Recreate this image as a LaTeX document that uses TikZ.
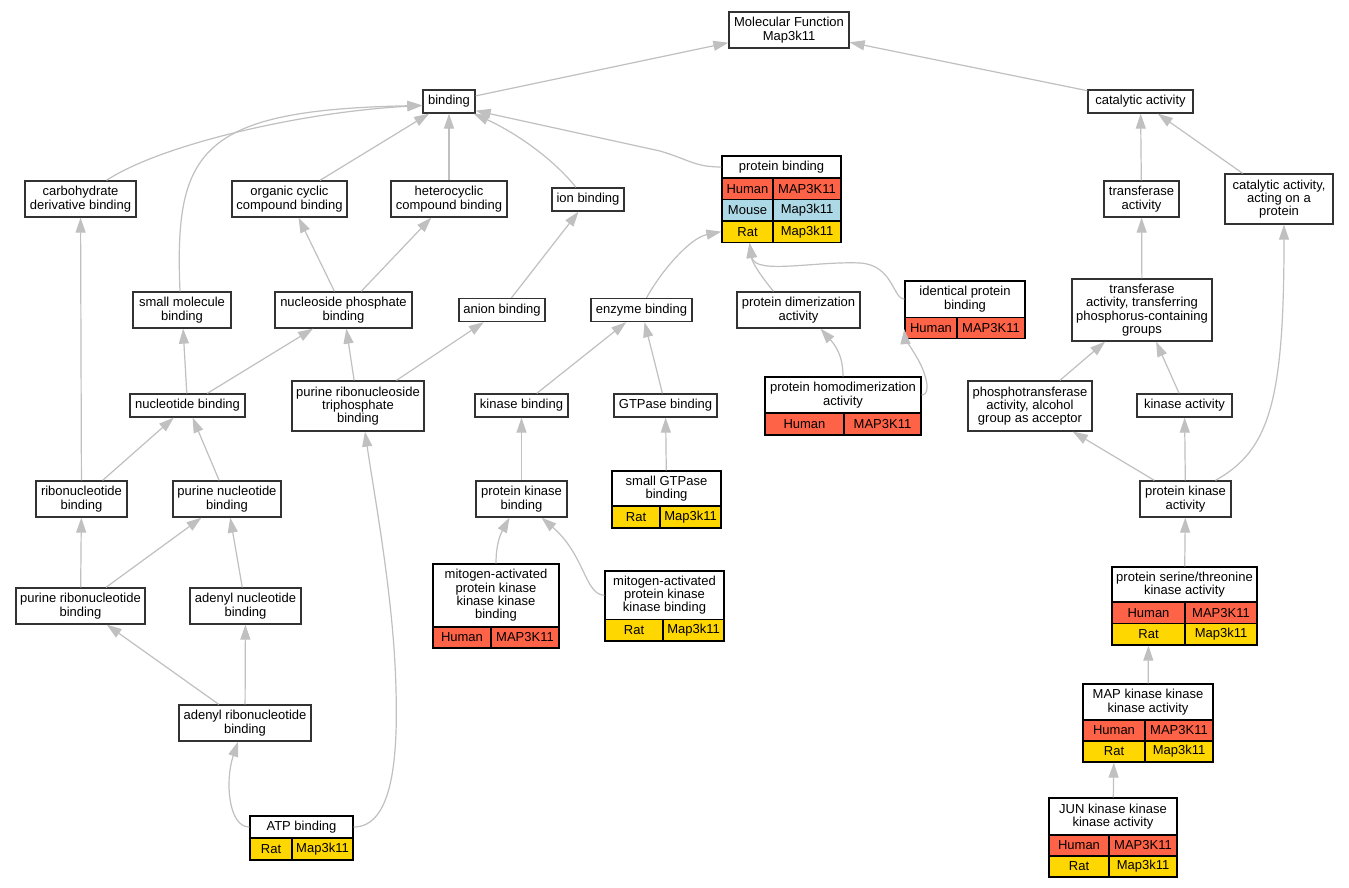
\documentclass[tikz,border=0pt]{standalone}
\usepackage{fontspec}
\setmainfont{Liberation Sans}
\usetikzlibrary{arrows.meta}
\definecolor{edgegray}{RGB}{192,192,192}
\definecolor{boxgray}{RGB}{50,50,50}
\definecolor{humanred}{RGB}{255,99,71}
\definecolor{mouseblue}{RGB}{173,216,230}
\definecolor{ratgold}{RGB}{255,215,0}
\newcommand{\gofont}{\fontsize{13}{13.3}\selectfont}
% one species row of a table: name, style, x left, x divider, x right, y top, y bottom, species, gene
\newcommand{\sprow}[9]{%
  \node[#2, minimum width={#4-#3}, minimum height={#7-#6}] (#1l) at ({(#3+#4)/2},{(#6+#7)/2}) {#8};
  \node[#2, minimum width={#5-#4}, minimum height={#7-#6}] (#1r) at ({(#4+#5)/2},{(#6+#7)/2}) {#9};}

\begin{document}
\begin{tikzpicture}[x=1pt,y=-1pt,
  term/.style={draw=boxgray, line width=1.3pt, fill=white, align=center, inner sep=1pt, font=\gofont},
  hdr/.style={draw=black, line width=1.3pt, fill=white, align=center, inner sep=1pt, font=\gofont},
  human/.style={hdr, fill=humanred},
  mouse/.style={hdr, fill=mouseblue},
  rat/.style={hdr, fill=ratgold},
  isa/.style={draw=edgegray, line width=1.2pt, -{Triangle[length=15pt,width=10pt]}}]
  \useasboundingbox[fill=white] (0,0) rectangle (1349,888);

  % root and first level
  \node[term, minimum width=120, minimum height=36] (mf) at (789,30) {Molecular Function\\Map3k11};
  \node[term, minimum width=52, minimum height=23] (binding) at (449,101.5) {binding};
  \node[term, minimum width=105, minimum height=23] (catalytic) at (1140.5,101.5) {catalytic activity};

  % second level
  \node[term, minimum width=111, minimum height=36] (carb) at (80.5,199) {carbohydrate\\derivative binding};
  \node[term, minimum width=115, minimum height=36] (orgcyc) at (289.5,199) {organic cyclic\\compound binding};
  \node[term, minimum width=116, minimum height=36] (hetero) at (449,199) {heterocyclic\\compound binding};
  \node[term, minimum width=72, minimum height=23] (ionb) at (588,199.5) {ion binding};
  \node[term, minimum width=75, minimum height=36] (transf) at (1141.5,199) {transferase\\activity};
  \node[term, minimum width=108, minimum height=50] (catprot) at (1279,199) {catalytic activity,\\acting on a\\protein};

  % protein binding table
  \node[hdr, minimum width=119, minimum height=22] (pb) at (781.5,167) {protein binding};
  \sprow{pbh}{human}{722}{773}{841}{178}{199.5}{Human}{MAP3K11}
  \sprow{pbm}{mouse}{722}{773}{841}{199.5}{221}{Mouse}{Map3k11}
  \sprow{pbr}{rat}{722}{773}{841}{221}{242.3}{Rat}{Map3k11}

  % third level
  \node[term, minimum width=98, minimum height=36] (smallmol) at (182,310) {small molecule\\binding};
  \node[term, minimum width=137, minimum height=36] (nucphos) at (343.5,310) {nucleoside phosphate\\binding};
  \node[term, minimum width=86, minimum height=23] (anion) at (502,310) {anion binding};
  \node[term, minimum width=101, minimum height=23] (enzyme) at (641.5,310) {enzyme binding};
  \node[term, minimum width=123, minimum height=36] (dimer) at (798.5,310) {protein dimerization\\activity};
  \node[term, minimum width=140, minimum height=62] (transp) at (1142,310) {transferase\\activity, transferring\\phosphorus-containing\\groups};
  \node[hdr, minimum width=120, minimum height=36.5] (idp) at (965,299.25) {identical protein\\binding};
  \sprow{idph}{human}{905}{957}{1025}{317.5}{338.5}{Human}{MAP3K11}

  % fourth level
  \node[term, minimum width=115, minimum height=23] (nucleotide) at (187.5,405.5) {nucleotide binding};
  \node[term, minimum width=132, minimum height=50] (prtp) at (358,406) {purine ribonucleoside\\triphosphate\\binding};
  \node[term, minimum width=93, minimum height=23] (kinb) at (521.5,405.5) {kinase binding};
  \node[term, minimum width=103, minimum height=23] (gtpase) at (665.5,405.5) {GTPase binding};
  \node[term, minimum width=124, minimum height=50] (phosph) at (1030,406) {phosphotransferase\\activity, alcohol\\group as acceptor};
  \node[term, minimum width=95, minimum height=23] (kinact) at (1184.5,405.5) {kinase activity};
  \node[hdr, minimum width=156, minimum height=36] (hd) at (843,395) {protein homodimerization\\activity};
  \sprow{hdh}{human}{765}{844}{921}{413}{435}{Human}{MAP3K11}

  % fifth level
  \node[term, minimum width=91, minimum height=36] (ribo) at (81.5,499) {ribonucleotide\\binding};
  \node[term, minimum width=108, minimum height=36] (purnuc) at (227,499) {purine nucleotide\\binding};
  \node[term, minimum width=91, minimum height=36] (pkb) at (521.5,499) {protein kinase\\binding};
  \node[term, minimum width=91, minimum height=36] (pka) at (1185.5,499) {protein kinase\\activity};
  \node[hdr, minimum width=109, minimum height=35] (sgtp) at (666.5,488.5) {small GTPase\\binding};
  \sprow{sgtpr}{rat}{612}{660}{721}{506}{528}{Rat}{Map3k11}

  % sixth level
  \node[term, minimum width=129, minimum height=36] (purribo) at (80.5,606) {purine ribonucleotide\\binding};
  \node[term, minimum width=111, minimum height=36] (adenyl) at (245.5,606) {adenyl nucleotide\\binding};
  \node[hdr, minimum width=126, minimum height=63] (mkkb) at (496,595.5) {mitogen-activated\\protein kinase\\kinase kinase\\binding};
  \sprow{mkkbh}{human}{433}{491}{559}{627}{648}{Human}{MAP3K11}
  \node[hdr, minimum width=119, minimum height=48.5] (mkb) at (664.5,595.25) {mitogen-activated\\protein kinase\\kinase binding};
  \sprow{mkbr}{rat}{605}{663}{724}{619.5}{641}{Rat}{Map3k11}
  \node[hdr, minimum width=145, minimum height=35] (st) at (1184.5,584.5) {protein serine/threonine\\kinase activity};
  \sprow{sth}{human}{1112}{1185}{1257}{602}{623.5}{Human}{MAP3K11}
  \sprow{str}{rat}{1112}{1185}{1257}{623.5}{645}{Rat}{Map3k11}

  % lower levels
  \node[term, minimum width=132, minimum height=36] (adribo) at (245,723) {adenyl ribonucleotide\\binding};
  \node[hdr, minimum width=103, minimum height=22] (atp) at (301.5,827) {ATP binding};
  \sprow{atpr}{rat}{250}{292}{353}{838}{860}{Rat}{Map3k11}
  \node[hdr, minimum width=130, minimum height=36] (mka) at (1148,702) {MAP kinase kinase\\kinase activity};
  \sprow{mkah}{human}{1083}{1145}{1213}{720}{741}{Human}{MAP3K11}
  \sprow{mkar}{rat}{1083}{1145}{1213}{741}{762}{Rat}{Map3k11}
  \node[hdr, minimum width=128, minimum height=37] (jun) at (1113,816.5) {JUN kinase kinase\\kinase activity};
  \sprow{junh}{human}{1049}{1109}{1177}{835}{856}{Human}{MAP3K11}
  \sprow{junr}{rat}{1049}{1109}{1177}{856}{877}{Rat}{Map3k11}

  % is_a edges, straight
  \draw[isa] (binding) -- (mf);
  \draw[isa] (catalytic) -- (mf);
  \draw[isa] (orgcyc) -- (binding);
  \draw[isa] (hetero) -- (binding);
  \draw[isa] (transf) -- (catalytic);
  \draw[isa] (catprot) -- (catalytic);
  \draw[isa] (nucphos) -- (orgcyc);
  \draw[isa] (nucphos) -- (hetero);
  \draw[isa] (anion) -- (ionb);
  \draw[isa] (transp) -- (transf);
  \draw[isa] (ribo) -- (carb);
  \draw[isa] (nucleotide) -- (smallmol);
  \draw[isa] (nucleotide) -- (nucphos);
  \draw[isa] (prtp) -- (nucphos);
  \draw[isa] (prtp) -- (anion);
  \draw[isa] (kinb) -- (enzyme);
  \draw[isa] (gtpase) -- (enzyme);
  \draw[isa] (phosph) -- (transp);
  \draw[isa] (kinact) -- (transp);
  \draw[isa] (ribo) -- (nucleotide);
  \draw[isa] (purnuc) -- (nucleotide);
  \draw[isa] (pkb) -- (kinb);
  \draw[isa] (sgtp) -- (gtpase);
  \draw[isa] (pka) -- (phosph);
  \draw[isa] (pka) -- (kinact);
  \draw[isa] (purribo) -- (ribo);
  \draw[isa] (purribo) -- (purnuc);
  \draw[isa] (adenyl) -- (purnuc);
  \draw[isa] (adribo) -- (purribo);
  \draw[isa] (adribo) -- (adenyl);
  \draw[isa] (st) -- (pka);
  \draw[isa] (mka) -- (strl);
  \draw[isa] (jun) -- (mkarl);

  % is_a edges, curved
  \draw[isa] ([xshift=26]carb.north) .. controls (160,145) and (300,112) .. ([yshift=-4]binding.west);
  \draw[isa] ([xshift=-2]smallmol.north) .. controls (174,150) and (200,110) .. ([yshift=-4]binding.west);
  \draw[isa] ([xshift=-12]ionb.north) .. controls (550,155) and (510,130) .. ([xshift=-2]binding.south east);
  \draw[isa] (pb.west) .. controls (695,167) and (690,160) .. (660,151) -- ([yshift=3]binding.south east);
  \draw[isa] ([xshift=5]enzyme.north) .. controls (662,270) and (690,238) .. (pbrl.west);
  \draw[isa] ([xshift=-25]dimer.north) .. controls (760,275) and (752,262) .. ([xshift=2]pbrl.south);
  \draw[isa] (idp.west) .. controls (893,299) and (893,265) .. (860,263) .. controls (815,261) and (755,275) .. ([xshift=2]pbrl.south);
  \draw[isa] (hd.north) .. controls (843,355) and (835,345) .. ([xshift=22]dimer.south);
  \draw[isa] (hd.east) .. controls (932,395) and (926,372) .. (916,356) .. controls (910,346) and (905,338) .. ([yshift=10]idphl.south west);
  \draw[isa] ([xshift=30]pka.north) .. controls (1270,450) and (1284,400) .. ([xshift=5]catprot.south);
  \draw[isa] (atp.east) .. controls (392,827) and (398,760) .. (396,690) .. controls (394,600) and (375,500) .. ([xshift=7]prtp.south);
  \draw[isa] (atp.west) .. controls (228,827) and (225,780) .. ([xshift=-7]adribo.south);
  \draw[isa] (mkkb.north) .. controls (496,545) and (500,535) .. ([xshift=-12]pkb.south);
  \draw[isa] (mkb.west) .. controls (585,595) and (585,555) .. ([xshift=20]pkb.south);
\end{tikzpicture}
\end{document}
